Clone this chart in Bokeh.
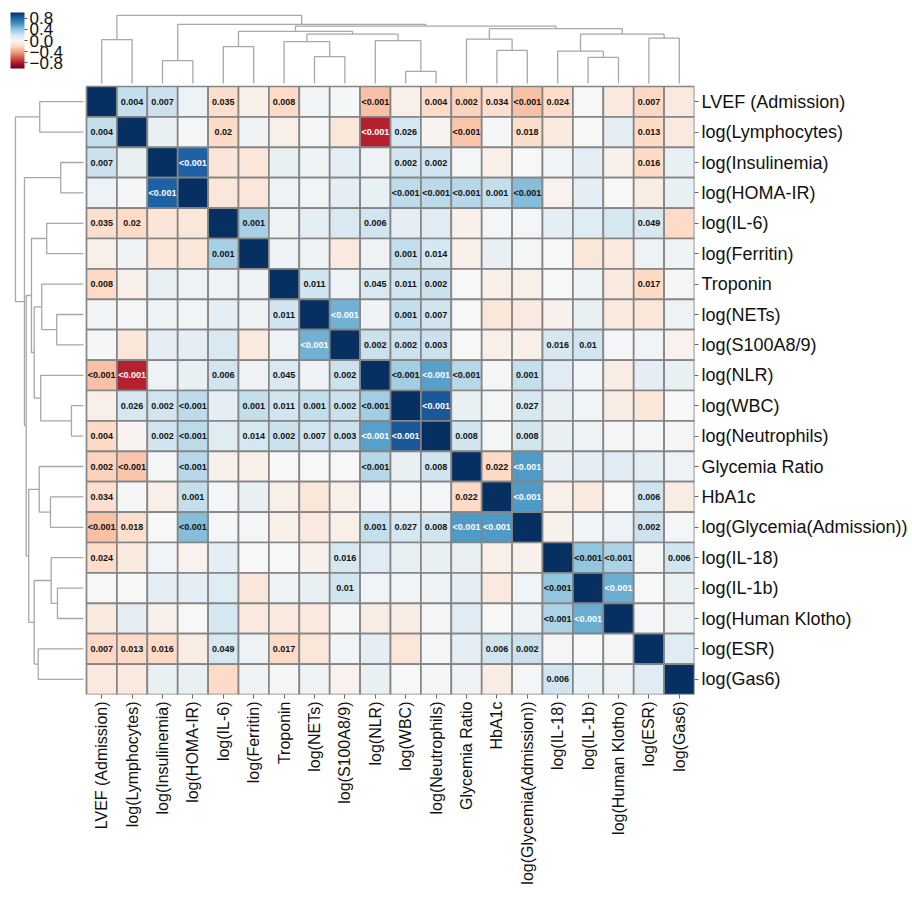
import numpy as np
from bokeh.plotting import figure
from bokeh.models import (LinearAxis, FixedTicker, Range1d, LinearColorMapper,
                          ColorBar, ColumnDataSource, AllLabels)
from bokeh.transform import transform
from bokeh.core.properties import value
from bokeh.embed import file_html
from bokeh.resources import INLINE

# Variables in clustered order (rows top→bottom, columns left→right)
labels = [
    "LVEF (Admission)", "log(Lymphocytes)", "log(Insulinemia)", "log(HOMA-IR)",
    "log(IL-6)", "log(Ferritin)", "Troponin", "log(NETs)", "log(S100A8/9)",
    "log(NLR)", "log(WBC)", "log(Neutrophils)", "Glycemia Ratio", "HbA1c",
    "log(Glycemia(Admission))", "log(IL-18)", "log(IL-1b)", "log(Human Klotho)",
    "log(ESR)", "log(Gas6)",
]

# Correlation coefficients, upper triangle: each row holds r with the variables after it
r_lvef = [0.24, 0.22, 0.06, -0.18, -0.06, -0.20, 0.03, 0.01, -0.30, -0.06, -0.20,
          -0.23, -0.17, -0.30, -0.19, 0.00, -0.10, -0.21, -0.10]
r_lymph = [0.08, 0.02, -0.20, 0.04, -0.06, 0.02, -0.12, -0.78, 0.18, -0.03, -0.28,
           0.02, -0.18, -0.10, 0.00, 0.10, -0.20, -0.10]
r_insulin = [0.82, -0.13, -0.12, 0.08, 0.04, 0.10, 0.05, 0.20, 0.20, 0.02, -0.06,
             0.00, 0.03, 0.10, -0.05, -0.20, 0.08]
r_homa = [-0.12, -0.12, 0.06, 0.03, 0.10, 0.08, 0.26, 0.27, 0.28, 0.24, 0.43,
          -0.04, 0.10, 0.00, -0.08, 0.08]
r_il6 = [0.33, 0.05, 0.10, 0.16, 0.20, 0.10, 0.12, -0.05, 0.02, 0.02, 0.10, 0.12,
         0.18, 0.17, -0.20]
r_ferritin = [0.05, 0.05, -0.10, 0.05, 0.24, 0.18, -0.06, 0.08, 0.02, 0.00, -0.12,
              -0.10, 0.06, 0.04]
r_troponin = [0.20, 0.06, 0.16, 0.20, 0.22, 0.00, -0.06, -0.06, 0.00, 0.04, -0.10,
              -0.20, 0.02]
r_nets = [0.48, 0.04, 0.24, 0.20, 0.00, -0.12, -0.10, -0.05, 0.08, -0.10, -0.12, 0.05]
r_s100 = [0.22, 0.22, 0.22, 0.00, -0.06, -0.06, 0.18, 0.20, 0.02, 0.03, -0.04]
r_nlr = [0.35, 0.55, 0.28, 0.02, 0.24, 0.12, 0.03, -0.08, 0.10, 0.08]
r_wbc = [0.85, 0.08, 0.02, 0.18, 0.08, 0.03, -0.08, -0.12, 0.00]
r_neut = [0.20, 0.02, 0.20, 0.08, 0.05, 0.02, 0.02, 0.02]
r_glyratio = [-0.20, 0.57, 0.08, 0.10, 0.12, 0.10, 0.05]
r_hba1c = [0.57, -0.06, -0.10, 0.00, 0.20, -0.08]
r_glyadm = [-0.05, 0.03, 0.06, 0.22, 0.02]
r_il18 = [0.40, 0.32, 0.02, 0.20]
r_il1b = [0.50, 0.00, 0.07]
r_klotho = [0.02, 0.05]
r_esr = [0.12]

upper_rows = [r_lvef, r_lymph, r_insulin, r_homa, r_il6, r_ferritin, r_troponin,
              r_nets, r_s100, r_nlr, r_wbc, r_neut, r_glyratio, r_hba1c, r_glyadm,
              r_il18, r_il1b, r_klotho, r_esr]

# Significant p-values (row, column, label) for the upper triangle
p_values = [
    (0, 1, "0.004"), (0, 2, "0.007"), (0, 4, "0.035"), (0, 6, "0.008"),
    (0, 9, "<0.001"), (0, 11, "0.004"), (0, 12, "0.002"), (0, 13, "0.034"),
    (0, 14, "<0.001"), (0, 15, "0.024"), (0, 18, "0.007"),
    (1, 4, "0.02"), (1, 9, "<0.001"), (1, 10, "0.026"), (1, 12, "<0.001"),
    (1, 14, "0.018"), (1, 18, "0.013"),
    (2, 3, "<0.001"), (2, 10, "0.002"), (2, 11, "0.002"), (2, 18, "0.016"),
    (3, 10, "<0.001"), (3, 11, "<0.001"), (3, 12, "<0.001"), (3, 13, "0.001"),
    (3, 14, "<0.001"),
    (4, 5, "0.001"), (4, 9, "0.006"), (4, 18, "0.049"),
    (5, 10, "0.001"), (5, 11, "0.014"),
    (6, 7, "0.011"), (6, 9, "0.045"), (6, 10, "0.011"), (6, 11, "0.002"),
    (6, 18, "0.017"),
    (7, 8, "<0.001"), (7, 10, "0.001"), (7, 11, "0.007"),
    (8, 9, "0.002"), (8, 10, "0.002"), (8, 11, "0.003"), (8, 15, "0.016"),
    (8, 16, "0.01"),
    (9, 10, "<0.001"), (9, 11, "<0.001"), (9, 12, "<0.001"), (9, 14, "0.001"),
    (10, 11, "<0.001"), (10, 14, "0.027"),
    (11, 12, "0.008"), (11, 14, "0.008"),
    (12, 13, "0.022"), (12, 14, "<0.001"),
    (13, 14, "<0.001"), (13, 18, "0.006"),
    (14, 18, "0.002"),
    (15, 16, "<0.001"), (15, 17, "<0.001"), (15, 19, "0.006"),
    (16, 17, "<0.001"),
]

# Hierarchical clustering: (child a, child b, merge height); new nodes numbered from 20
merges = [
    (0, 1, 1.75), (2, 3, 0.91), (4, 5, 1.47), (7, 8, 1.07), (6, 23, 1.67),
    (10, 11, 0.48), (9, 25, 1.71), (24, 26, 1.97), (22, 27, 2.08), (13, 14, 1.32),
    (12, 29, 1.77), (16, 17, 1.04), (15, 31, 1.29), (18, 19, 1.81), (32, 33, 1.97),
    (30, 34, 2.19), (28, 35, 2.29), (21, 36, 2.36), (20, 37, 2.72),
]

N = len(labels)
M = np.eye(N)
for i, row in enumerate(upper_rows):
    for k, r in enumerate(row):
        j = i + 1 + k
        M[i, j] = M[j, i] = r

# Diverging red–blue colour scale
anchors = ["#67001f", "#b2182b", "#d6604d", "#f4a582", "#fddbc7", "#f7f7f7",
           "#d1e5f0", "#92c5de", "#4393c3", "#2166ac", "#053061"]
rgb = np.array([[int(c[k:k + 2], 16) for k in (1, 3, 5)] for c in anchors], float)
t_anchor = np.linspace(0, 1, len(anchors))
t_fine = np.linspace(0, 1, 201)
palette = ["#%02x%02x%02x" % tuple(int(round(np.interp(t, t_anchor, rgb[:, c])))
                                   for c in range(3)) for t in t_fine]
mapper = LinearColorMapper(palette=palette, low=-1, high=1)

cell_px = 30.4
lead = 86 / cell_px  # room for the dendrograms, in cell units

p = figure(width=912, height=901,
           x_range=Range1d(-lead, N), y_range=Range1d(N, -lead),
           min_border_left=0, min_border_top=0,
           min_border_right=218, min_border_bottom=207,
           x_axis_location=None, y_axis_location=None,
           toolbar_location=None, output_backend="svg",
           outline_line_color=None, background_fill_color="white",
           border_fill_color="white")
for g in p.grid:
    g.visible = False

# Heatmap cells
xs, ys, rs = [], [], []
for i in range(N):
    for j in range(N):
        xs.append(j + 0.5)
        ys.append(i + 0.5)
        rs.append(M[i, j])
cells = ColumnDataSource(dict(x=xs, y=ys, r=rs))
p.rect(x="x", y="y", width=1, height=1, source=cells,
       fill_color=transform("r", mapper), line_color="#858585", line_width=1.7)

# p-value annotations (mirrored to both triangles)
tx, ty, tt, tc = [], [], [], []
for i, j, lab in p_values:
    for a, b in ((i, j), (j, i)):
        tx.append(b + 0.5)
        ty.append(a + 0.5)
        tt.append(lab)
        tc.append("#ffffff" if abs(M[a, b]) > 0.45 else "#111111")
ann = ColumnDataSource(dict(x=tx, y=ty, text=tt, color=tc))
p.text(x="x", y="y", text="text", source=ann, text_color="color",
       text_font=value("Liberation Sans"), text_font_style="bold",
       text_font_size="9px", text_align="center", text_baseline="middle")

# Dendrograms (top for columns, left for rows)
root_h = max(h for _, _, h in merges)
depth_scale = (68 / cell_px) / root_h
base = -0.1


def depth(h):
    return base - h * depth_scale


pos = {i: i + 0.5 for i in range(N)}
hgt = {i: 0.0 for i in range(N)}
top_xs, top_ys, left_xs, left_ys = [], [], [], []
for k, (a, b, h) in enumerate(merges):
    pa, pb, ha, hb = pos[a], pos[b], hgt[a], hgt[b]
    top_xs.append([pa, pa, pb, pb])
    top_ys.append([depth(ha), depth(h), depth(h), depth(hb)])
    left_xs.append([depth(ha), depth(h), depth(h), depth(hb)])
    left_ys.append([pa, pa, pb, pb])
    pos[N + k] = (pa + pb) / 2
    hgt[N + k] = h
p.multi_line(xs=top_xs, ys=top_ys, line_color="#a8a8a8", line_width=1.3)
p.multi_line(xs=left_xs, ys=left_ys, line_color="#a8a8a8", line_width=1.3)

# Variable names on the right and below
centers = [i + 0.5 for i in range(N)]
overrides = {c: lab for c, lab in zip(centers, labels)}

yax = LinearAxis(ticker=FixedTicker(ticks=centers), major_label_overrides=overrides)
xax = LinearAxis(ticker=FixedTicker(ticks=centers), major_label_overrides=overrides,
                 major_label_orientation=np.pi / 2)
for ax, size in ((yax, "18px"), (xax, "16px")):
    ax.axis_line_color = None
    ax.major_tick_line_color = "#666666"
    ax.major_tick_out = 4
    ax.major_tick_in = 0
    ax.minor_tick_line_color = None
    ax.major_label_standoff = 3
    ax.major_label_policy = AllLabels()
    ax.major_label_text_font = "Liberation Sans"
    ax.major_label_text_font_size = size
    ax.major_label_text_color = "#111111"
p.add_layout(yax, "right")
p.add_layout(xax, "below")

# Colour key
cb_ticks = [-0.8, -0.4, 0, 0.4, 0.8]
cb = ColorBar(color_mapper=mapper, ticker=FixedTicker(ticks=cb_ticks),
              major_label_overrides={-0.8: "\u22120.8", -0.4: "\u22120.4", 0: "0.0",
                                     0.4: "0.4", 0.8: "0.8"},
              major_label_policy=AllLabels(),
              location=(10, 694 - 12 - 56), width=14, height=56, padding=0,
              bar_line_color=None, border_line_color=None,
              background_fill_alpha=0, major_tick_line_color="#555555",
              major_tick_out=3, major_tick_in=0, label_standoff=2,
              major_label_text_font="Liberation Sans",
              major_label_text_font_size="17px",
              major_label_text_color="#111111")
p.add_layout(cb)

open("out.html", "w").write(file_html(p, INLINE))
